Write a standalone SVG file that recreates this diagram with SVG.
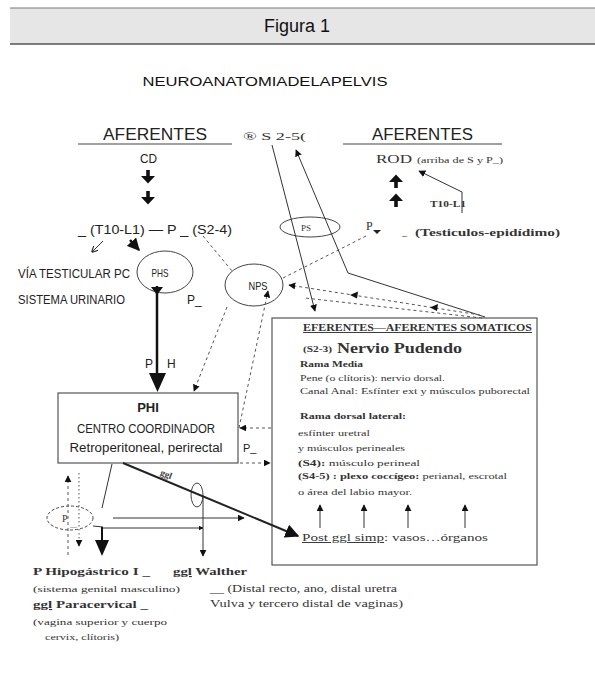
<svg xmlns="http://www.w3.org/2000/svg" width="595" height="687" viewBox="0 0 595 687">
<defs>
<marker id="ah" viewBox="0 0 10 10" refX="9" refY="5" markerWidth="7" markerHeight="7" orient="auto-start-reverse"><path d="M0,0 L10,5 L0,10 z" fill="#111"/></marker>
<marker id="ahs" viewBox="0 0 10 10" refX="9" refY="5" markerWidth="5" markerHeight="5" orient="auto"><path d="M0,0 L10,5 L0,10 z" fill="#111"/></marker>
<marker id="aho" viewBox="0 0 10 10" refX="9" refY="5" markerWidth="7" markerHeight="7" orient="auto"><path d="M0,0 L10,5 L0,10" fill="none" stroke="#222" stroke-width="1.5"/></marker>
<path id="bigDown" d="M-1.8,-7 h3.6 v6 h5.2 l-7,7.5 l-7,-7.5 h5.2 z" fill="#111"/>
</defs>
<style>
.hs{font-family:"Liberation Sans Narrow","Liberation Sans",sans-serif;fill:#222}
.sf{font-family:"Liberation Serif",serif;fill:#333}
.b{font-weight:bold}
.ln{stroke:#333;fill:none;stroke-width:1}
.dsh{stroke:#555;fill:none;stroke-width:1;stroke-dasharray:3 3}
.ell{stroke:#444;fill:none;stroke-width:1}
</style>

<g id="header">
<rect x="10" y="8" width="585" height="36" fill="#e6e6e6"/>
<line x1="10" y1="8" x2="595" y2="8" stroke="#777" stroke-width="1"/>
<line x1="10" y1="44" x2="595" y2="44" stroke="#555" stroke-width="1.5"/>
<text x="297" y="32" text-anchor="middle" font-family="Liberation Sans, sans-serif" font-size="18" fill="#111">Figura 1</text>
</g>
<g id="title">
<text x="265" y="86" text-anchor="middle" font-family="Liberation Sans, sans-serif" font-size="13" fill="#111" textLength="245" lengthAdjust="spacingAndGlyphs">NEUROANATOMIADELAPELVIS</text>
</g>

<g id="aferentes-left">
<text class="hs" x="103" y="140" font-size="16" textLength="104" lengthAdjust="spacingAndGlyphs">AFERENTES</text>
<line x1="78" y1="144" x2="232" y2="144" stroke="#444" stroke-width="1.2"/>
<text class="hs" x="140" y="163" font-size="12" textLength="17" lengthAdjust="spacingAndGlyphs">CD</text>
<use href="#bigDown" transform="translate(148,177)"/>
<use href="#bigDown" transform="translate(148,198)"/>
</g>

<g id="s25">
<text class="sf" x="243" y="140" font-size="10" textLength="63" lengthAdjust="spacingAndGlyphs">® S 2-5(</text>
</g>

<g id="aferentes-right">
<text class="hs" x="372" y="140" font-size="16" textLength="101" lengthAdjust="spacingAndGlyphs">AFERENTES</text>
<line x1="343" y1="144" x2="502" y2="144" stroke="#444" stroke-width="1.2"/>
<text class="sf" x="376" y="163" font-size="12" textLength="36" lengthAdjust="spacingAndGlyphs">ROD</text>
<text class="sf" x="417" y="163" font-size="8" textLength="86" lengthAdjust="spacingAndGlyphs">(arriba de S y P_)</text>
<use href="#bigDown" transform="translate(396,181) rotate(180)"/>
<use href="#bigDown" transform="translate(396,200) rotate(180)"/>
<text class="sf b" x="430" y="207" font-size="8" textLength="36" lengthAdjust="spacingAndGlyphs">T10-L1</text>
</g>

<g id="testiculos">
<text class="sf" x="366" y="230" font-size="12">P</text>
<path d="M373,230 l8,0 l-4,4 z" fill="#222"/>
<text class="sf" x="402" y="235" font-size="10">_</text>
<text class="sf b" x="415" y="236" font-size="10.5" textLength="145" lengthAdjust="spacingAndGlyphs">(Testiculos-epidídimo)</text>
</g>

<g id="segmentos">
<text class="hs" x="78" y="234" font-size="12" textLength="154" lengthAdjust="spacingAndGlyphs">_ (T10-L1) — P _ (S2-4)</text>
<text class="hs" x="18" y="278" font-size="12.5" textLength="112" lengthAdjust="spacingAndGlyphs">VÍA TESTICULAR PC</text>
<text class="hs" x="18" y="304" font-size="12.5" textLength="107" lengthAdjust="spacingAndGlyphs">SISTEMA URINARIO</text>
</g>

<g id="phs">
<ellipse class="ell" cx="165" cy="272" rx="28" ry="21"/>
<text class="hs" x="160" y="277" font-size="11" text-anchor="middle" textLength="17" lengthAdjust="spacingAndGlyphs">PHS</text>
<text class="hs" x="187" y="304" font-size="12">P_</text>
</g>

<g id="nps">
<ellipse class="ell" cx="254" cy="285" rx="29" ry="21"/>
<text class="hs" x="258" y="290" font-size="11" text-anchor="middle" textLength="19" lengthAdjust="spacingAndGlyphs">NPS</text>
</g>

<g id="ps">
<ellipse class="ell" cx="310" cy="227" rx="30" ry="10"/>
<text class="sf" x="306" y="231" font-size="9" text-anchor="middle">PS</text>
</g>

<g id="phi">
<rect x="58" y="393" width="180" height="70" fill="#fff" stroke="#555" stroke-width="1.2"/>
<text class="hs b" x="148" y="412" font-size="13" text-anchor="middle">PHI</text>
<text class="hs" x="146" y="433" font-size="12" text-anchor="middle" textLength="138" lengthAdjust="spacingAndGlyphs">CENTRO COORDINADOR</text>
<text class="hs" x="146" y="452" font-size="12" text-anchor="middle" textLength="153" lengthAdjust="spacingAndGlyphs">Retroperitoneal, perirectal</text>
<text class="hs" x="145" y="368" font-size="12">P</text>
<text class="hs" x="167" y="368" font-size="12">H</text>
<text class="hs" x="243" y="452" font-size="11">P_</text>
</g>

<g id="box-somaticos">
<rect x="272" y="318" width="265" height="247" fill="none" stroke="#555" stroke-width="1.2"/>
<text class="sf b" x="303" y="331" font-size="9.5" text-decoration="underline" textLength="229" lengthAdjust="spacingAndGlyphs">EFERENTES—AFERENTES  SOMATICOS</text>
<text class="sf b" x="303" y="352" font-size="8" textLength="29" lengthAdjust="spacingAndGlyphs">(S2-3)</text>
<text class="sf b" x="337" y="353" font-size="15" textLength="125" lengthAdjust="spacingAndGlyphs">Nervio Pudendo</text>
<text class="sf b" x="300" y="367" font-size="9" textLength="63" lengthAdjust="spacingAndGlyphs">Rama Media</text>
<text class="sf" x="300" y="381" font-size="9" textLength="145" lengthAdjust="spacingAndGlyphs">Pene (o clítoris): nervio dorsal.</text>
<text class="sf" x="300" y="394" font-size="9" textLength="230" lengthAdjust="spacingAndGlyphs">Canal Anal: Esfínter ext y músculos puborectal</text>
<text class="sf b" x="300" y="419" font-size="9" textLength="106" lengthAdjust="spacingAndGlyphs">Rama dorsal lateral:</text>
<text class="sf" x="298" y="436" font-size="9" textLength="72" lengthAdjust="spacingAndGlyphs">esfínter uretral</text>
<text class="sf" x="298" y="451" font-size="9" textLength="107" lengthAdjust="spacingAndGlyphs">y músculos perineales</text>
<text class="sf" x="298" y="466" font-size="9" textLength="122" lengthAdjust="spacingAndGlyphs"><tspan class="b">(S4):</tspan> músculo perineal</text>
<text class="sf" x="298" y="479" font-size="9" textLength="209" lengthAdjust="spacingAndGlyphs"><tspan class="b">(S4-5) : plexo coccígeo:</tspan> perianal, escrotal</text>
<text class="sf" x="298" y="495" font-size="9" textLength="114" lengthAdjust="spacingAndGlyphs">o área del labio mayor.</text>
<text class="sf" x="302" y="541" font-size="9.5" textLength="186" lengthAdjust="spacingAndGlyphs"><tspan text-decoration="underline">Post ggl     simp</tspan>: vasos…órganos</text>
</g>

<g id="p-left">
<ellipse cx="70" cy="518" rx="23" ry="12" fill="none" stroke="#444" stroke-width="1" stroke-dasharray="3 2"/>
<text class="sf" x="62" y="522" font-size="10">P</text>
<text class="sf" x="70" y="527" font-size="7">__</text>
</g>

<g id="ggl-node">
<ellipse class="ell" cx="197" cy="495" rx="6" ry="12" fill="#fff"/>
<text class="sf b" x="160" y="478" font-size="9" transform="rotate(22 168 476)">ggl</text>
</g>

<g id="bottom-labels">
<text class="sf b" x="33" y="575" font-size="11" textLength="117" lengthAdjust="spacingAndGlyphs">P Hipogástrico I _</text>
<text class="sf b" x="173" y="575" font-size="11" textLength="74" lengthAdjust="spacingAndGlyphs"><tspan text-decoration="underline">ggl</tspan> Walther</text>
<text class="sf" x="33" y="592" font-size="9" textLength="147" lengthAdjust="spacingAndGlyphs">(sistema genital masculino)</text>
<text class="sf" x="210" y="592" font-size="9.5" textLength="187" lengthAdjust="spacingAndGlyphs">__ (Distal recto, ano, distal uretra</text>
<text class="sf b" x="33" y="608" font-size="11" textLength="115" lengthAdjust="spacingAndGlyphs"><tspan text-decoration="underline">ggl</tspan> Paracervical _</text>
<text class="sf" x="210" y="607" font-size="9.5" textLength="193" lengthAdjust="spacingAndGlyphs">Vulva y tercero distal de vaginas)</text>
<text class="sf" x="33" y="625" font-size="9" textLength="134" lengthAdjust="spacingAndGlyphs">(vagina superior y cuerpo</text>
<text class="sf" x="45" y="640" font-size="9" textLength="74" lengthAdjust="spacingAndGlyphs">cervix, clítoris)</text>
</g>

<g id="connectors">
<!-- ROD side arrow -->
<polyline class="ln" points="462,213 462,192 419,171" marker-end="url(#ah)"/>
<!-- T10-L1 arrows -->
<line class="ln" x1="103" y1="241" x2="92" y2="252" marker-end="url(#aho)"/>
<line x1="130" y1="240" x2="139" y2="250" stroke="#111" stroke-width="2.5" marker-end="url(#ahs)"/>
<!-- PHS to PHI thick -->
<line x1="157" y1="286" x2="157" y2="376" stroke="#111" stroke-width="2.5"/>
<path d="M151,287 h12 l-6,8 z" fill="#111"/>
<path d="M149,373 h17 l-8.5,19 z" fill="#111"/>
<!-- S2-5 lines -->
<line class="ln" x1="272" y1="145" x2="315" y2="311" marker-end="url(#ah)"/>
<polyline class="ln" points="485,317 348,273 296,150" marker-end="url(#ah)"/>
<!-- dashed S2-4 to NPS -->
<line class="dsh" x1="203" y1="236" x2="232" y2="271"/>
<!-- dashed P testiculos to NPS -->
<line class="dsh" x1="366" y1="236" x2="283" y2="278"/>
<!-- dashed box to NPS -->
<line class="dsh" x1="480" y1="315" x2="289" y2="285" marker-end="url(#ah)"/>
<path d="M430,307.5 l8,-3.5 l-1,7 z" fill="#111"/>
<path d="M350,295 l8,-3.5 l-1,7 z" fill="#111"/>
<line class="dsh" x1="482" y1="318" x2="305" y2="298"/>
<!-- NPS to PHI top -->
<line class="dsh" x1="227" y1="307" x2="194" y2="391" marker-end="url(#ah)"/>
<!-- PHI right to NPS -->
<line class="dsh" x1="239" y1="428" x2="268" y2="291" marker-end="url(#ah)"/>
<!-- box to PHI right -->
<line class="dsh" x1="271" y1="428" x2="240" y2="428" marker-end="url(#ah)"/>
<!-- PHI to box -->
<line class="dsh" x1="240" y1="463" x2="270" y2="463" marker-end="url(#ah)"/>
<!-- ggl thick line -->
<line x1="123" y1="463" x2="298" y2="536" stroke="#222" stroke-width="2" marker-end="url(#ah)"/>
<!-- Walther vertical -->
<line class="ln" x1="203" y1="497" x2="203" y2="556" marker-end="url(#ah)"/>
<!-- horizontals -->
<line class="ln" x1="113" y1="518" x2="244" y2="518" marker-end="url(#ah)"/>
<line class="ln" x1="103" y1="528" x2="203" y2="528" marker-end="url(#ahs)"/>
<!-- PHI bottom to hipogastrico -->
<line class="ln" x1="112" y1="464" x2="102" y2="508"/>
<line class="ln" x1="93" y1="526" x2="103" y2="527"/>
<line x1="102" y1="527" x2="102" y2="541" stroke="#111" stroke-width="2"/>
<path d="M95,540 h14 l-7,16 z" fill="#111"/>
<!-- dashed verticals at P -->
<line class="dsh" x1="68" y1="555" x2="68" y2="476" marker-end="url(#ah)"/>
<line x1="79" y1="473" x2="79" y2="546" stroke="#555" stroke-width="1" stroke-dasharray="1.5 2.5" marker-end="url(#ah)"/>
<!-- box arrows up -->
<line class="ln" x1="320" y1="528" x2="320" y2="505" marker-end="url(#ah)"/>
<line class="ln" x1="364" y1="528" x2="364" y2="505" marker-end="url(#ah)"/>
<line class="ln" x1="408" y1="528" x2="408" y2="505" marker-end="url(#ah)"/>
<line class="ln" x1="465" y1="528" x2="465" y2="505" marker-end="url(#ah)"/>
</g>
</svg>
